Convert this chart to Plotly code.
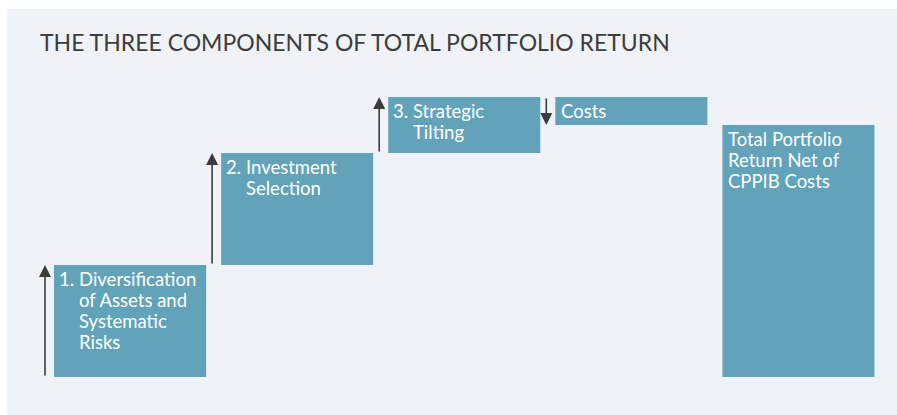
import plotly.graph_objects as go

# ---- data ----
categories = ["Diversification", "Investment Selection", "Strategic Tilting", "Costs",
              "Total Portfolio Return Net of CPPIB Costs"]
values = [4, 4, 2, -1, 9]
measures = ["relative", "relative", "relative", "relative", "total"]
label_numbers = ["1.", "2.", "3.", "", ""]
label_bodies = ["Diversification<br>of Assets and<br>Systematic<br>Risks",
                "Investment<br>Selection",
                "Strategic<br>Tilting",
                "Costs",
                "Total Portfolio<br>Return Net of<br>CPPIB Costs"]
title_text = "THE THREE COMPONENTS OF TOTAL PORTFOLIO RETURN"

# ---- style / layout constants ----
W_FIG, H_FIG = 897, 415
PITCH = 167.0            # px per category
X0_PX = 130.0            # px centre of first bar
M_L = 38
M_T, M_B = 97, 38
BAR_W = 152 / PITCH
BAR_COLOR = "#62A3BA"
PANEL = "#EFF3F7"
DARK = "#3C3C3C"
FONT = "Lato"
LBL_SIZE = 18.5
LINE_PX = 21.3
TOP_SHIFT = -0.5

xmin = -(X0_PX - M_L) / PITCH
xmax = 4.5
plot_w = (xmax - xmin) * PITCH
M_R = W_FIG - M_L - plot_w
plot_h = H_FIG - M_T - M_B

xs = list(range(len(categories)))

fig = go.Figure()
fig.add_trace(go.Waterfall(
    x=xs, y=values, measure=measures, width=BAR_W,
    increasing=dict(marker=dict(color=BAR_COLOR)),
    decreasing=dict(marker=dict(color=BAR_COLOR)),
    totals=dict(marker=dict(color=BAR_COLOR)),
    connector=dict(visible=False),
    hoverinfo="skip", textinfo="none",
))

annotations = []
cum = 0
for i, (v, m) in enumerate(zip(values, measures)):
    if m == "total":
        start, end = 0, v
    else:
        start, end = cum, cum + v
        cum = end
    top = max(start, end)
    left = xs[i] - BAR_W / 2
    # arrow for relative steps
    if m == "relative":
        ax_x = left - 9 / PITCH
        annotations.append(dict(
            x=ax_x, y=end, ax=ax_x, ay=start, xref="x", yref="y", axref="x", ayref="y",
            text="", showarrow=True, arrowhead=2, arrowsize=1.5, arrowwidth=1.6,
            arrowcolor=DARK, standoff=0, startstandoff=0))
    # labels (one annotation per line for tight line spacing)
    font = dict(family=FONT, size=LBL_SIZE, color="white")
    body_shift = 23 if label_numbers[i] else 4
    if label_numbers[i]:
        annotations.append(dict(
            x=left, y=top, xref="x", yref="y", xanchor="left", yanchor="top",
            xshift=3, yshift=TOP_SHIFT, text=label_numbers[i], showarrow=False,
            align="left", font=font))
    for k, line in enumerate(label_bodies[i].split("<br>")):
        annotations.append(dict(
            x=left, y=top, xref="x", yref="y", xanchor="left", yanchor="top",
            xshift=body_shift, yshift=TOP_SHIFT - LINE_PX * k, text=line, showarrow=False,
            align="left", font=font))

fig.update_layout(
    width=W_FIG, height=H_FIG,
    margin=dict(l=M_L, r=M_R, t=M_T, b=M_B, pad=0),
    paper_bgcolor="white", plot_bgcolor="rgba(0,0,0,0)",
    showlegend=False,
    xaxis=dict(range=[xmin, xmax], visible=False, fixedrange=True),
    yaxis=dict(range=[0, 10], visible=False, fixedrange=True),
    title=dict(text=title_text, xref="container", yref="container",
               x=40 / W_FIG, xanchor="left", y=1 - 43 / H_FIG, yanchor="middle",
               font=dict(family=FONT, size=23, color=DARK)),
    annotations=annotations,
    shapes=[dict(type="rect", xref="paper", yref="paper", layer="below",
                 x0=(7 - M_L) / plot_w, x1=(W_FIG - M_L) / plot_w,
                 y0=-M_B / plot_h, y1=(H_FIG - M_B - 9) / plot_h,
                 fillcolor=PANEL, line=dict(width=0))],
)

fig.write_html("out.html", config={"displayModeBar": False},
               post_script="document.body.style.margin='0';document.body.style.overflow='hidden';")
